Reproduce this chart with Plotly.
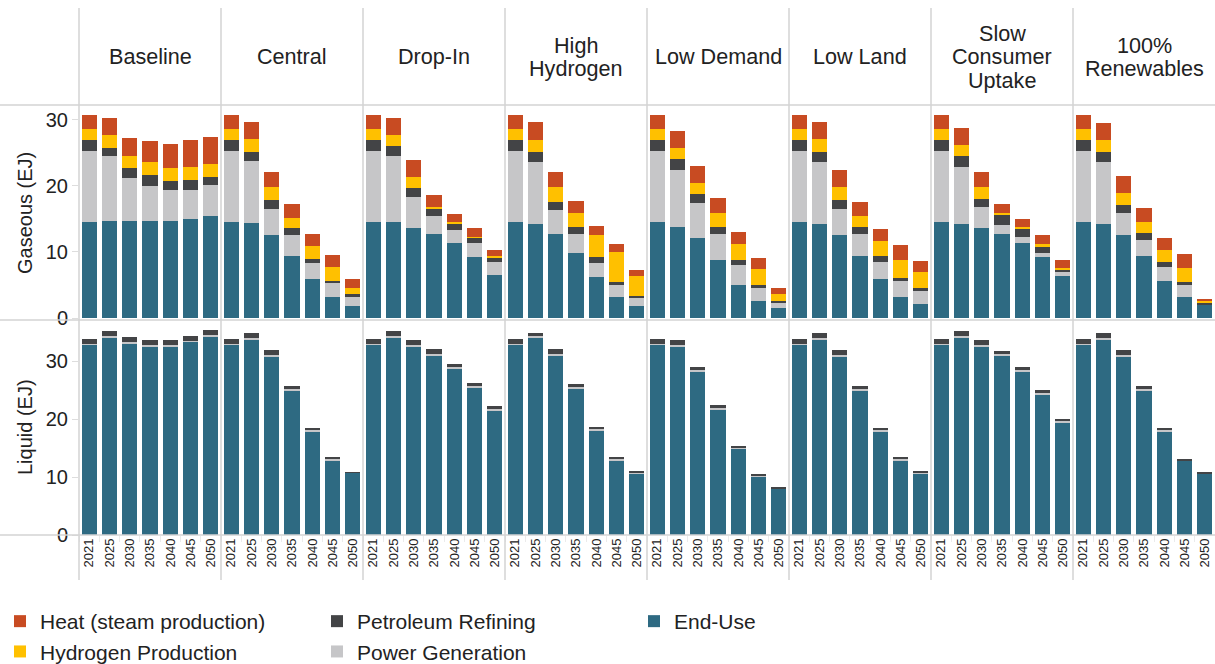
import plotly.graph_objects as go

# ---------------- data ----------------
SCENARIOS = [["Baseline"], ["Central"], ["Drop-In"], ["High", "Hydrogen"],
             ["Low Demand"], ["Low Land"], ["Slow", "Consumer", "Uptake"],
             ["100%", "Renewables"]]
YEARS = ["2021", "2025", "2030", "2035", "2040", "2045", "2050"]

# Gaseous (EJ), one list per scenario
GAS_END_USE = [
    [14.55, 14.70, 14.70, 14.70, 14.70, 15.00, 15.45],
    [14.55, 14.39, 12.58, 9.39, 5.91, 3.18, 1.82],
    [14.55, 14.55, 13.64, 12.73, 11.36, 9.24, 6.52],
    [14.55, 14.24, 12.73, 9.85, 6.21, 3.18, 1.82],
    [14.55, 13.79, 12.12, 8.79, 5.00, 2.58, 1.52],
    [14.55, 14.24, 12.58, 9.39, 5.91, 3.18, 2.12],
    [14.55, 14.24, 13.64, 12.73, 11.36, 9.24, 6.36],
    [14.55, 14.24, 12.58, 9.39, 5.61, 3.18, 1.97],
]
GAS_POWER = [
    [10.75, 9.85, 6.51, 5.30, 4.69, 4.39, 4.70],
    [10.75, 9.40, 3.94, 3.19, 2.42, 2.12, 1.36],
    [10.75, 10.00, 4.69, 2.72, 1.97, 2.12, 1.96],
    [10.75, 9.40, 3.63, 2.88, 2.12, 1.82, 1.21],
    [10.75, 8.63, 5.30, 3.94, 3.03, 1.97, 0.75],
    [10.75, 9.40, 3.94, 3.34, 2.57, 2.43, 1.97],
    [10.75, 8.64, 3.18, 1.36, 0.91, 0.61, 0.61],
    [10.75, 9.40, 3.33, 2.43, 2.12, 1.82, 0.15],
]
GAS_REFINING = [
    [1.67, 1.21, 1.52, 1.67, 1.37, 1.52, 1.21],
    [1.67, 1.36, 1.36, 1.06, 0.61, 0.31, 0.46],
    [1.67, 1.51, 1.37, 1.07, 0.91, 0.76, 0.76],
    [1.67, 1.51, 1.22, 1.06, 0.91, 0.45, 0.30],
    [1.67, 1.67, 1.37, 1.06, 0.76, 0.45, 0.31],
    [1.67, 1.51, 1.36, 1.06, 0.91, 0.45, 0.46],
    [1.67, 1.67, 1.21, 1.52, 1.21, 0.91, 0.45],
    [1.67, 1.51, 1.21, 1.06, 0.75, 0.45, 0.15],
]
GAS_HYDROGEN = [
    [1.67, 1.97, 1.82, 1.97, 1.97, 1.97, 1.97],
    [1.67, 1.97, 1.97, 1.51, 1.97, 2.12, 0.91],
    [1.67, 1.67, 1.66, 0.30, 0.31, 0.15, 0.15],
    [1.67, 1.82, 2.27, 2.12, 3.34, 4.55, 3.03],
    [1.67, 1.67, 1.66, 2.12, 2.42, 2.42, 1.06],
    [1.67, 1.97, 1.97, 1.66, 2.28, 2.73, 2.42],
    [1.67, 1.66, 1.82, 0.30, 0.31, 0.45, 0.16],
    [1.67, 1.82, 1.82, 1.67, 1.82, 2.13, 0.31],
]
GAS_HEAT = [
    [2.12, 2.57, 2.72, 3.18, 3.63, 4.09, 4.09],
    [2.12, 2.58, 2.27, 2.12, 1.82, 1.82, 1.36],
    [2.12, 2.57, 2.58, 1.82, 1.21, 1.37, 0.91],
    [2.12, 2.73, 2.27, 1.82, 1.36, 1.21, 0.91],
    [2.12, 2.57, 2.58, 2.27, 1.82, 1.67, 0.91],
    [2.12, 2.58, 2.57, 2.13, 1.81, 2.27, 1.67],
    [2.12, 2.58, 2.27, 1.36, 1.21, 1.37, 1.21],
    [2.12, 2.58, 2.58, 2.12, 1.82, 2.12, 0.30],
]

# Liquid (EJ)
LIQ_END_USE = [
    [32.76, 33.97, 32.93, 32.41, 32.41, 33.28, 34.31],
    [32.76, 33.79, 30.69, 24.83, 17.76, 12.76, 10.69],
    [32.76, 33.97, 32.41, 31.03, 28.62, 25.34, 21.38],
    [32.76, 33.97, 31.03, 25.17, 18.10, 12.76, 10.52],
    [32.76, 32.41, 28.10, 21.55, 14.83, 10.00, 7.93],
    [32.76, 33.79, 30.69, 24.83, 17.76, 12.76, 10.52],
    [32.76, 33.97, 32.41, 31.03, 28.10, 24.14, 19.31],
    [32.76, 33.79, 30.69, 24.83, 17.76, 12.76, 10.52],
]
LIQ_POWER = [
    [0.17, 0.34, 0.35, 0.35, 0.35, 0.17, 0.17],
    [0.17, 0.18, 0.34, 0.34, 0.34, 0.34, 0.00],
    [0.17, 0.34, 0.35, 0.18, 0.35, 0.35, 0.34],
    [0.17, 0.34, 0.18, 0.35, 0.18, 0.34, 0.17],
    [0.17, 0.35, 0.35, 0.35, 0.17, 0.17, 0.00],
    [0.17, 0.18, 0.34, 0.34, 0.34, 0.34, 0.17],
    [0.17, 0.34, 0.35, 0.18, 0.35, 0.34, 0.35],
    [0.17, 0.18, 0.34, 0.34, 0.34, 0.00, 0.00],
]
LIQ_REFINING = [
    [0.86, 0.86, 0.86, 0.86, 0.86, 0.86, 0.86],
    [0.86, 0.86, 0.87, 0.52, 0.35, 0.35, 0.17],
    [0.86, 0.86, 0.86, 0.86, 0.51, 0.52, 0.52],
    [0.86, 0.52, 0.86, 0.51, 0.34, 0.35, 0.34],
    [0.86, 0.86, 0.52, 0.51, 0.34, 0.35, 0.35],
    [0.86, 0.86, 0.87, 0.52, 0.35, 0.35, 0.34],
    [0.86, 0.86, 0.86, 0.51, 0.52, 0.52, 0.34],
    [0.86, 0.86, 0.87, 0.52, 0.35, 0.34, 0.34],
]

SERIES_NAMES = ["End-Use", "Power Generation", "Petroleum Refining",
                "Hydrogen Production", "Heat (steam production)"]
COLORS = ["#2E6A82", "#C6C6C8", "#434446", "#FFC000", "#C84B22"]
LEGEND_RANK = [3, 5, 2, 4, 1]

# ---------------- layout helpers ----------------
W, H = 1215, 664
L, R, T, B = 79, 0, 105, 129
PW, PH = W - L - R, H - T - B
FONT = "Arial, 'Liberation Sans', sans-serif"
LINE = "#D3D3D3"


def fx(px):
    return (px - L) / PW


def fy(py):
    return (H - B - py) / PH


fig = go.Figure()
n = len(SCENARIOS)
gas = [GAS_END_USE, GAS_POWER, GAS_REFINING, GAS_HYDROGEN, GAS_HEAT]
liq = [LIQ_END_USE, LIQ_POWER, LIQ_REFINING]

for c in range(n):
    xa = "x" if c == 0 else f"x{c + 1}"
    for k, data in enumerate(gas):
        fig.add_trace(go.Bar(
            x=YEARS, y=data[c], name=SERIES_NAMES[k], marker_color=COLORS[k],
            marker_line_width=0, xaxis=xa, yaxis="y", legendgroup=SERIES_NAMES[k],
            showlegend=(c == 0), legendrank=LEGEND_RANK[k]))
    for k, data in enumerate(liq):
        fig.add_trace(go.Bar(
            x=YEARS, y=data[c], name=SERIES_NAMES[k], marker_color=COLORS[k],
            marker_line_width=0, xaxis=xa, yaxis="y2", legendgroup=SERIES_NAMES[k],
            showlegend=False, legendrank=LEGEND_RANK[k]))

layout = dict(
    width=W, height=H, margin=dict(l=L, r=R, t=T, b=B, autoexpand=False),
    paper_bgcolor="white", plot_bgcolor="white",
    barmode="stack", bargap=0.26,
    font=dict(family=FONT, color="#222"),
    showlegend=True,
    legend=dict(orientation="h", x=fx(0), xanchor="left", y=fy(601), yanchor="top",
                font=dict(size=21, color="#222"), entrywidth=272, entrywidthmode="pixels",
                tracegroupgap=0, itemclick=False),
)
for c in range(n):
    key = "xaxis" if c == 0 else f"xaxis{c + 1}"
    layout[key] = dict(domain=[c / n, (c + 1) / n], anchor="y2", type="category",
                       tickangle=-90, ticks="outside", tickson="boundaries", ticklen=6,
                       tickcolor="#EBEBEB", showgrid=False, zeroline=False, showline=False,
                       tickfont=dict(size=13, color="#222"), fixedrange=True)
layout["yaxis"] = dict(domain=[fy(318), 1], range=[0, 32.27], anchor="x",
                       tickvals=[0, 10, 20, 30], ticks="outside", ticklen=6, tickcolor="#DDDDDD",
                       showgrid=False, zeroline=False, showline=False,
                       tickfont=dict(size=20, color="#222"))
layout["yaxis2"] = dict(domain=[0, 0.5], range=[0, 37.07], anchor="x",
                        tickvals=[0, 10, 20, 30], ticks="outside", ticklen=6, tickcolor="#DDDDDD",
                        showgrid=False, zeroline=False, showline=False,
                        tickfont=dict(size=20, color="#222"))
fig.update_layout(**layout)

shapes = []
# vertical separators
for c in range(n):
    xp = fx(L + c * PW / n)
    shapes.append(dict(type="line", xref="paper", yref="paper", x0=xp, x1=xp,
                       y0=fy(580), y1=fy(8), line=dict(color=LINE, width=1.5)))
# horizontal lines
for py in (105, 320, 535):
    shapes.append(dict(type="line", xref="paper", yref="paper", x0=fx(0), x1=fx(W),
                       y0=fy(py), y1=fy(py), line=dict(color=LINE, width=1.5)))
fig.update_layout(shapes=shapes)

ann = []
LINE_STEP = 23.5
for c, lines in enumerate(SCENARIOS):
    xc = (c + 0.5) / n
    m = len(lines)
    for i, txt in enumerate(lines):
        py = 57 + (i - (m - 1) / 2) * LINE_STEP
        ann.append(dict(text=txt, x=xc, y=fy(py), xref="paper", yref="paper",
                        showarrow=False, xanchor="center", yanchor="middle",
                        font=dict(size=21.6, color="#222")))
ann.append(dict(text="Gaseous (EJ)", x=fx(25), y=fy(213), xref="paper", yref="paper",
                showarrow=False, textangle=-90, xanchor="center", yanchor="middle",
                font=dict(size=20, color="#222")))
ann.append(dict(text="Liquid (EJ)", x=fx(25), y=fy(427), xref="paper", yref="paper",
                showarrow=False, textangle=-90, xanchor="center", yanchor="middle",
                font=dict(size=20, color="#222")))
fig.update_layout(annotations=ann)

fig.write_html("out.html", config={"displayModeBar": False},
               post_script="document.body.style.margin='0';document.body.style.overflow='hidden';")
